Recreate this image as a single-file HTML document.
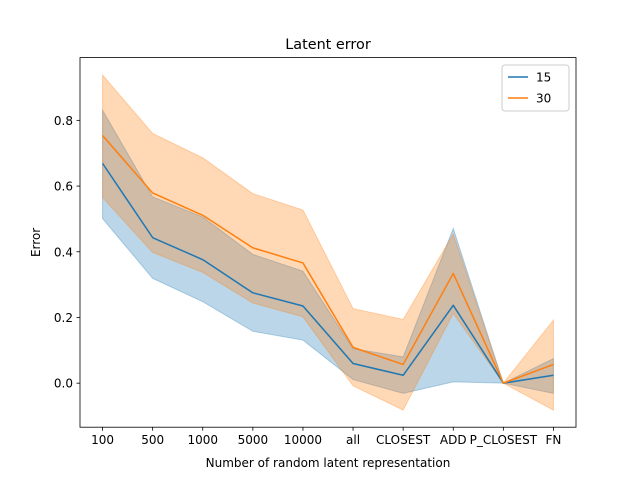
<!DOCTYPE html>
<html><head><meta charset="utf-8"><style>
body{margin:0;background:#fff}
svg{display:block;font-family:"DejaVu Sans","Liberation Sans",sans-serif}
</style></head><body>
<svg id="chart" width="640" height="480">
<rect width="640" height="480" fill="#fff"/>
<g id="plot"></g>
</svg>
<script>
const categories=["100","500","1000","5000","10000","all","CLOSEST","ADD","P_CLOSEST","FN"];
const mean15=[0.669,0.443,0.376,0.275,0.235,0.060,0.024,0.237,0.0,0.024];
const upper15=[0.831,0.567,0.506,0.392,0.341,0.105,0.080,0.471,0.0,0.075];
const lower15=[0.501,0.319,0.248,0.158,0.131,0.011,-0.031,0.004,0.0,-0.031];
const mean30=[0.754,0.579,0.511,0.412,0.366,0.109,0.057,0.334,0.0,0.057];
const upper30=[0.938,0.760,0.686,0.577,0.527,0.227,0.194,0.454,0.0,0.192];
const lower30=[0.565,0.398,0.337,0.244,0.202,-0.008,-0.082,0.212,0.0,-0.082];
const yTicks=[0.0,0.2,0.4,0.6,0.8];
const seriesNames=["15","30"];

const L=80,R=576,T=57.6,B=427.2;
const xmin=-0.45,xmax=9.45,ymin=-0.134,ymax=0.991;
const X=i=>L+(i-xmin)/(xmax-xmin)*(R-L);
const Y=v=>B-(v-ymin)/(ymax-ymin)*(B-T);
const g=document.getElementById('plot');
const NS='http://www.w3.org/2000/svg';
function mk(tag,attrs,parent){const e=document.createElementNS(NS,tag);for(const k in attrs)e.setAttribute(k,attrs[k]);(parent||g).appendChild(e);return e;}
function band(up,lo,color,name){
  let pts=up.map((v,i)=>X(i)+','+Y(v));
  for(let i=lo.length-1;i>=0;i--)pts.push(X(i)+','+Y(lo[i]));
  const p=mk('polygon',{points:pts.join(' '),fill:color,'fill-opacity':0.3,stroke:color,'stroke-opacity':0.3});
  
  
}
function line(m,color,name){
  const p=mk('polyline',{points:m.map((v,i)=>X(i)+','+Y(v)).join(' '),fill:'none',stroke:color,'stroke-width':1.5,'stroke-linejoin':'round'});
  
  
}
band(upper15,lower15,'#1f77b4');

band(upper30,lower30,'#ff7f0e');

line(mean15,'#1f77b4','line-15');
line(mean30,'#ff7f0e','line-30');
// axes frame
const fr=mk('rect',{x:L,y:T,width:R-L,height:B-T,fill:'none',stroke:'#000','stroke-width':0.8});


categories.forEach((c,i)=>{
  mk('line',{x1:X(i),x2:X(i),y1:B,y2:B+3.5,stroke:'#000','stroke-width':0.8});
  const t=mk('text',{x:X(i),y:B+17,'text-anchor':'middle','font-size':12});
  t.textContent=c;
  
  
});
yTicks.forEach(v=>{
  mk('line',{x1:L-3.5,x2:L,y1:Y(v),y2:Y(v),stroke:'#000','stroke-width':0.8});
  const t=mk('text',{x:L-7,y:Y(v)+4.5,'text-anchor':'end','font-size':12});
  t.textContent=v.toFixed(1);
  
  
});
let t=mk('text',{x:(L+R)/2,y:467,'text-anchor':'middle','font-size':12});
t.textContent='Number of random latent representation';


t=mk('text',{x:40,y:(T+B)/2,'text-anchor':'middle','font-size':12,transform:`rotate(-90 40 ${(T+B)/2})`});
t.textContent='Error';


t=mk('text',{x:(L+R)/2,y:49,'text-anchor':'middle','font-size':14.4});
t.textContent='Latent error';


// legend
const lg=mk('g',{});


mk('rect',{x:502,y:65,width:67,height:46,rx:3,fill:'#fff','fill-opacity':0.8,stroke:'#ccc'},lg);
['#1f77b4','#ff7f0e'].forEach((c,i)=>{
  const yy=77+i*21;
  const ln=mk('line',{x1:508,x2:528,y1:yy,y2:yy,stroke:c,'stroke-width':1.5},lg);
  
  
  const tx=mk('text',{x:536,y:yy+4.5,'font-size':12},lg);
  tx.textContent=seriesNames[i];
  
  
});
</script>
</body></html>
